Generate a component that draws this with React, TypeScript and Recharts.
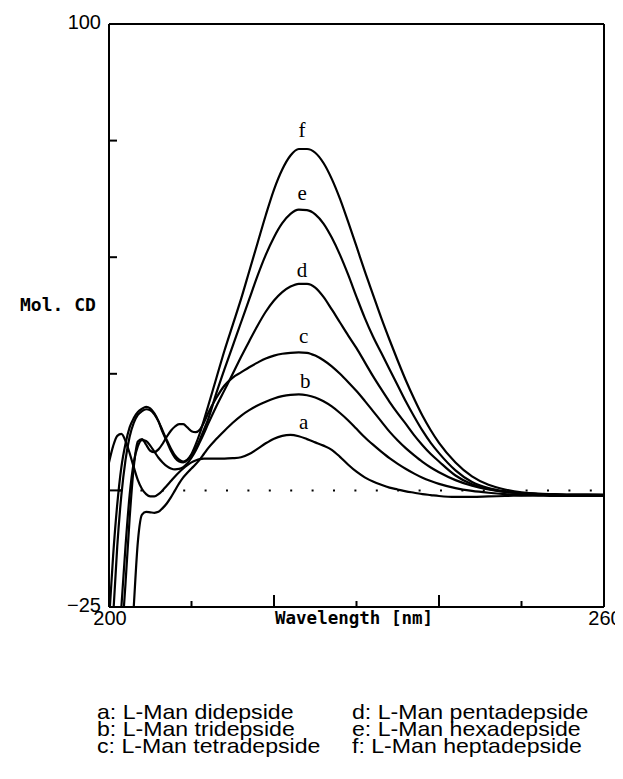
import { LineChart, Line, XAxis, YAxis, ReferenceLine, ReferenceDot } from 'recharts';

// plot box inside the svg (px)
const PLOT = { left: 101, top: 16, right: 596, bottom: 599 };
const CHART_W = 615;
const CHART_H = 640;

const wavelengths = [
  200, 200.5, 201, 201.5, 202, 202.5, 203, 203.5, 204, 204.5,
  205, 205.5, 206, 206.5, 207, 207.5, 208, 208.5, 209, 209.5,
  210, 210.5, 211, 211.5, 212,
  213, 214, 215, 216, 217, 218, 219, 220, 221, 222,
  223, 224, 225, 226, 227, 228, 229, 230, 231, 232,
  233, 234, 235, 236, 237, 238, 239, 240,
  242, 244, 246, 248, 250, 252, 254, 256, 258, 260,
];

// a: didepside
const didepside = [
  6, 9.5, 11.7, 12.1, 10.6, 8, 5, 2.2, 0.3, -0.8,
  -1.3, -1.3, -0.8, 0, 1, 2, 3, 3.9, 4.7, 5.4,
  6, 6.4, 6.7, 6.8, 6.8,
  6.8, 6.8, 6.9, 7.1, 7.8, 8.9, 10.1, 11.1, 11.7, 11.9,
  11.6, 11, 10.3, 9.6, 8.7, 7.2, 5.5, 4, 2.8, 1.9,
  1.2, 0.6, 0.2, -0.2, -0.5, -0.8, -1, -1.2,
  -1.4, -1.4, -1.3, -1.2, -1.1, -1, -1, -0.9, -0.9, -0.9,
];

// b: tridepside
const tridepside = [
  -100, -90, -80, -68, -55, -40, -25, -11, -5.2, -4.6,
  -4.7, -4.8, -4.6, -3.8, -2.8, -1.5, 0, 1.5, 2.8, 3.8,
  4.7, 5.6, 6.6, 7.8, 9,
  11, 12.8, 14.5, 16, 17.2, 18.2, 19, 19.7, 20.2, 20.5,
  20.6, 20.4, 19.9, 19.1, 18, 16.6, 15, 13.2, 11.4, 9.8,
  8.3, 6.9, 5.7, 4.6, 3.6, 2.7, 2, 1.4,
  0.5, -0.1, -0.5, -0.8, -1, -1.1, -1.2, -1.2, -1.2, -1.2,
];

// c: tetradepside
const tetradepside = [
  -75, -62, -48, -33, -20, -6, 5, 10.5, 11, 9.8,
  8.5, 8.2, 8.8, 10, 11.5, 12.8, 13.7, 14.2, 14.2, 13.5,
  12.7, 12.5, 13, 14.5, 16.5,
  19.8, 22.5, 24.2, 25.3, 26.4, 27.4, 28.3, 28.9, 29.3, 29.5,
  29.6, 29.5, 28.9, 27.9, 26.6, 25, 23.2, 21.3, 19.2, 17,
  14.8, 12.6, 10.7, 9, 7.5, 6.1, 4.9, 3.9,
  2.2, 1, 0.2, -0.3, -0.6, -0.8, -0.9, -1, -1, -1.1,
];

// d: pentadepside
const pentadepside = [
  -60, -48, -36, -25, -12, -1, 6, 9.5, 10.8, 10.6,
  9.6, 8.3, 7, 6, 5.2, 4.7, 4.5, 4.6, 5, 5.8,
  7, 8.5, 10.3, 12.2, 14.2,
  18, 21.5, 25, 28.6, 32, 35.3, 38.3, 40.7, 42.5, 43.7,
  44.3, 44.3, 43.5, 41.5, 38.8, 36, 33.2, 30.5, 27.5, 24.5,
  21.7, 19, 16.5, 14.2, 11.8, 9.7, 7.8, 6.2,
  3.2, 1.3, 0.3, -0.3, -0.6, -0.8, -0.9, -1, -1, -1,
];

// e: hexadepside
const hexadepside = [
  -38, -27, -12, -1, 6.5, 11.5, 14.5, 16.2, 17, 17.4,
  17.2, 16.3, 14.8, 12.8, 10.8, 9, 7.5, 6.6, 6.2, 6.6,
  7.6, 8.9, 10.8, 13, 15.2,
  20.8, 26, 31, 36, 41, 46, 50.5, 54.3, 57.3, 59.3,
  60.2, 60.1, 59.2, 57.2, 54.2, 50.5, 46.2, 41.5, 37, 33,
  29.5, 26, 22.5, 19, 15.8, 12.8, 10.2, 8,
  4.3, 1.8, 0.5, -0.2, -0.6, -0.8, -0.9, -1, -1, -1,
];

// f: heptadepside
const heptadepside = [
  -28, -14, -3, 5, 10, 13.5, 15.5, 16.8, 17.5, 17.9,
  17.6, 16.5, 14.8, 12.5, 10.5, 8.5, 7, 6.2, 6, 6.5,
  7.8, 9.8, 12.2, 15, 18,
  24, 30, 35.5, 41, 47, 53, 59, 64.5, 68.8, 71.8,
  73.2, 73.2, 72.4, 70.2, 66.8, 62.5, 57.5, 52.3, 47, 42,
  37, 32.3, 27.8, 23.5, 19.6, 16, 12.9, 10.2,
  6, 3, 1.2, 0.2, -0.4, -0.7, -0.8, -0.9, -0.9, -1,
];

const seriesKeys = ['a', 'b', 'c', 'd', 'e', 'f'];

const xTicks = [200, 210, 220, 230, 240, 250, 260];
const yTicks = [-25, 0, 25, 50, 75, 100];

// letter tags above each peak (data units)
const peakLabels = [
  { key: 'f', x: 223.4, y: 77.4 },
  { key: 'e', x: 223.4, y: 63.8 },
  { key: 'd', x: 223.4, y: 47.4 },
  { key: 'c', x: 223.6, y: 33.1 },
  { key: 'b', x: 223.8, y: 23.5 },
  { key: 'a', x: 223.6, y: 14.7 },
];

const legendLeft = ['a: L-Man didepside', 'b: L-Man tridepside', 'c: L-Man tetradepside'];
const legendRight = ['d: L-Man pentadepside', 'e: L-Man hexadepside', 'f: L-Man heptadepside'];

const data = wavelengths.map((w, i) => ({
  w,
  a: didepside[i],
  b: tridepside[i],
  c: tetradepside[i],
  d: pentadepside[i],
  e: hexadepside[i],
  f: heptadepside[i],
}));

const numFont = '"Liberation Sans", Arial, sans-serif';
const monoFont = '"DejaVu Sans Mono", monospace';

const XTick = ({ x, payload }: any) => {
  const v = payload.value;
  const len = v === 220 || v === 240 ? 12 : v === 200 || v === 260 ? 0 : 6;
  const labelled = v === 200 || v === 260;
  return (
    <g>
      {len > 0 && (
        <line x1={x} x2={x} y1={PLOT.bottom} y2={PLOT.bottom - len} stroke="#000" strokeWidth={2} />
      )}
      {labelled && (
        <text x={x + 1} y={PLOT.bottom + 18} textAnchor="middle" fontFamily={numFont} fontSize={20} fill="#000">
          {v}
        </text>
      )}
    </g>
  );
};

const YTick = ({ y, payload }: any) => {
  const v = payload.value;
  const len = v === 0 ? 12 : v === -25 || v === 100 ? 0 : 8;
  const labelled = v === -25 || v === 100;
  return (
    <g>
      {len > 0 && (
        <line x1={PLOT.left} x2={PLOT.left + len} y1={y} y2={y} stroke="#000" strokeWidth={2} />
      )}
      {labelled && (
        <text x={PLOT.left - 8} y={y + 5} textAnchor="end" fontFamily={numFont} fontSize={20} fill="#000">
          {v === -25 ? '\u221225' : v}
        </text>
      )}
    </g>
  );
};

export default function App() {
  return (
    <div style={{ position: 'relative', width: CHART_W, height: 760, background: '#fff' }}>
      <LineChart
        width={CHART_W}
        height={CHART_H}
        data={data}
        margin={{ top: PLOT.top, right: CHART_W - PLOT.right, left: PLOT.left - 60, bottom: CHART_H - PLOT.bottom - 30 }}
      >
        <XAxis
          dataKey="w"
          type="number"
          domain={[200, 260]}
          ticks={xTicks}
          interval={0}
          tick={<XTick />}
          tickLine={false}
          axisLine={{ stroke: '#000', strokeWidth: 2 }}
          height={30}
        />
        <YAxis
          type="number"
          domain={[-25, 100]}
          ticks={yTicks}
          interval={0}
          allowDataOverflow
          tick={<YTick />}
          tickLine={false}
          axisLine={{ stroke: '#000', strokeWidth: 2 }}
          width={60}
        />
        <ReferenceLine y={100} stroke="#000" strokeWidth={2} />
        <ReferenceLine x={260} stroke="#000" strokeWidth={2} />
        <ReferenceLine y={0} stroke="#000" strokeWidth={2} strokeDasharray="2 19.4" strokeDashoffset={-10} />
        {seriesKeys.map((k) => (
          <Line
            key={k}
            dataKey={k}
            type="monotone"
            stroke="#000"
            strokeWidth={2.2}
            dot={false}
            isAnimationActive={false}
          />
        ))}
        {peakLabels.map((p) => (
          <ReferenceDot
            key={p.key}
            x={p.x}
            y={p.y}
            r={0}
            fill="none"
            stroke="none"
            label={{ value: p.key, position: 'center', fontFamily: '"Liberation Serif", serif', fontSize: 21, fill: '#000' }}
          />
        ))}
      </LineChart>

      <div
        style={{
          position: 'absolute', left: 12, top: 287, fontFamily: monoFont, fontWeight: 'bold',
          fontSize: 18, lineHeight: '20px', whiteSpace: 'pre', color: '#000',
        }}
      >
        Mol. CD
      </div>
      <div
        style={{
          position: 'absolute', left: 267, top: 600, fontFamily: monoFont, fontWeight: 'bold',
          fontSize: 17.5, lineHeight: '20px', whiteSpace: 'pre', color: '#000',
        }}
      >
        Wavelength [nm]
      </div>

      {[legendLeft, legendRight].map((col, ci) => (
        <div
          key={ci}
          style={{
            position: 'absolute', left: ci === 0 ? 89 : 344, top: 695, fontFamily: numFont,
            fontSize: 21, lineHeight: '17px', color: '#000', whiteSpace: 'pre',
            transform: 'scaleX(1.1)', transformOrigin: 'left top',
          }}
        >
          {col.map((t) => (
            <div key={t}>{t}</div>
          ))}
        </div>
      ))}
    </div>
  );
}
